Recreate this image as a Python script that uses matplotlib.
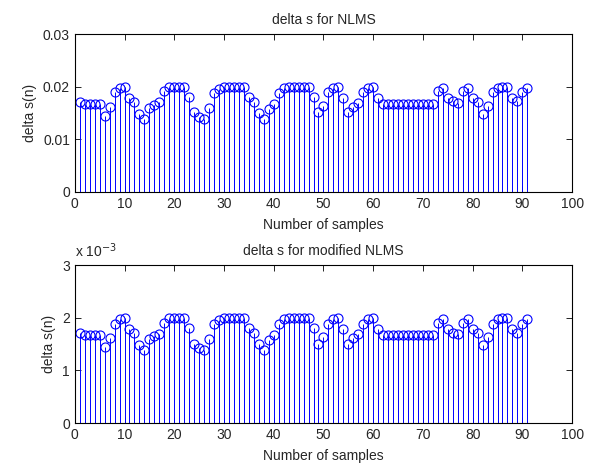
import numpy as np
import matplotlib
matplotlib.use('Agg')
import matplotlib.pyplot as plt

# delta s values, n = 1..91
ds_nlms = [0.0171, 0.0168, 0.0168, 0.0168, 0.0168, 0.0145, 0.0162, 0.0189, 0.0198, 0.0200,
           0.0178, 0.0171, 0.0149, 0.0139, 0.0159, 0.0166, 0.0170, 0.0191, 0.0199, 0.0200,
           0.0200, 0.0200, 0.0180, 0.0151, 0.0142, 0.0138, 0.0159, 0.0188, 0.0195, 0.0200,
           0.0200, 0.0200, 0.0200, 0.0200, 0.0180, 0.0171, 0.0150, 0.0139, 0.0158, 0.0167,
           0.0188, 0.0198, 0.0200, 0.0200, 0.0200, 0.0200, 0.0200, 0.0180, 0.0151, 0.0163,
           0.0189, 0.0198, 0.0200, 0.0178, 0.0151, 0.0162, 0.0169, 0.0189, 0.0198, 0.0200,
           0.0178, 0.0168, 0.0168, 0.0168, 0.0168, 0.0168, 0.0168, 0.0168, 0.0168, 0.0168,
           0.0168, 0.0168, 0.0191, 0.0198, 0.0178, 0.0172, 0.0169, 0.0191, 0.0198, 0.0178,
           0.0171, 0.0149, 0.0163, 0.0189, 0.0198, 0.0200, 0.0200, 0.0178, 0.0172, 0.0189,
           0.0198]

# modified NLMS, in units of 1e-3
ds_mod_e3 = [1.71, 1.68, 1.68, 1.68, 1.68, 1.45, 1.62, 1.89, 1.98, 2.00,
             1.78, 1.71, 1.49, 1.39, 1.59, 1.66, 1.70, 1.91, 1.99, 2.00,
             2.00, 2.00, 1.80, 1.51, 1.42, 1.38, 1.59, 1.88, 1.95, 2.00,
             2.00, 2.00, 2.00, 2.00, 1.80, 1.71, 1.50, 1.39, 1.58, 1.67,
             1.88, 1.98, 2.00, 2.00, 2.00, 2.00, 2.00, 1.80, 1.51, 1.63,
             1.89, 1.98, 2.00, 1.78, 1.51, 1.62, 1.69, 1.89, 1.98, 2.00,
             1.78, 1.68, 1.68, 1.68, 1.68, 1.68, 1.68, 1.68, 1.68, 1.68,
             1.68, 1.68, 1.91, 1.98, 1.78, 1.72, 1.69, 1.91, 1.98, 1.78,
             1.71, 1.49, 1.63, 1.89, 1.98, 2.00, 2.00, 1.78, 1.72, 1.89,
             1.98]

x_ticks = [0, 10, 20, 30, 40, 50, 60, 70, 80, 90, 100]
top_yticks = [0, 0.01, 0.02, 0.03]
top_yticklabels = ['0', '0.01', '0.02', '0.03']
bot_yticks = [0, 1, 2, 3]

plt.rcParams['font.family'] = ['Liberation Sans', 'DejaVu Sans']
plt.rcParams['font.size'] = 10
txt_color = '#262626'


def stem_panel(ax, y, title, yticks, yticklabels):
    n = np.arange(1, len(y) + 1)
    ml, sl, bl = ax.stem(n, y, basefmt=' ')
    plt.setp(sl, color='#0000ff', linewidth=0.7)
    plt.setp(ml, color='#0000ff', markerfacecolor='none', markersize=6.5,
             markeredgewidth=0.8)
    ax.set_xlim(0, 100)
    ax.set_ylim(yticks[0], yticks[-1])
    ax.set_xticks(x_ticks)
    ax.set_yticks(yticks)
    ax.set_yticklabels(yticklabels)
    ax.tick_params(direction='in', top=True, right=True, length=4,
                   width=0.6, labelsize=10, colors='black', labelcolor=txt_color)
    for s in ax.spines.values():
        s.set_linewidth(0.8)
    ax.set_title(title, fontsize=10, color=txt_color, pad=7)
    ax.set_xlabel('Number of samples', fontsize=10, color=txt_color, labelpad=5)
    ax.set_ylabel('delta s(n)', fontsize=10, color=txt_color, labelpad=4)


fig = plt.figure(figsize=(6.08, 4.66), dpi=100)
ax1 = fig.add_axes([0.123, 0.588, 0.818, 0.339])
ax2 = fig.add_axes([0.123, 0.092, 0.818, 0.339])

stem_panel(ax1, ds_nlms, 'delta s for NLMS', top_yticks, top_yticklabels)
stem_panel(ax2, ds_mod_e3, 'delta s for modified NLMS', bot_yticks,
           [str(t) for t in bot_yticks])
ax2.text(0.0, 1.03, 'x 10$^{-3}$', transform=ax2.transAxes, fontsize=10,
         color=txt_color, ha='left', va='bottom')

fig.savefig('out.png', dpi=100)
